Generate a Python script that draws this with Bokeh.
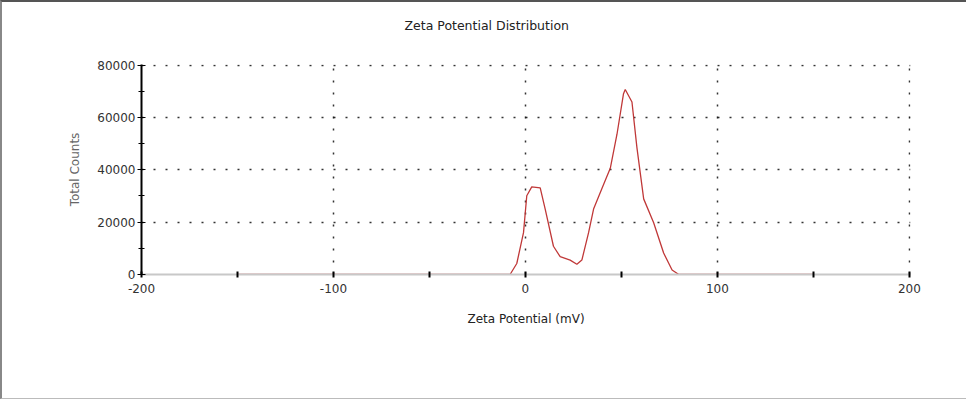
from bokeh.plotting import figure
from bokeh.models import Range1d, FixedTicker, PrintfTickFormatter
from bokeh.embed import file_html
from bokeh.resources import INLINE

# data
zeta_mv = [-150, -8, -4.5, -1, 0.7, 3.3, 7.7, 10.3, 14.6, 18.1, 23.3, 26.8, 29.4,
           32.9, 35.5, 39.8, 44.2, 47.7, 51.1, 52.0, 55.5, 58.1, 61.6, 66.8,
           72.0, 76.4, 79.9, 150]
total_counts = [0, 0, 4200, 16000, 30100, 33500, 33100, 25000, 10800, 6800, 5500,
                3900, 5500, 16000, 25000, 32800, 40600, 53600, 69100, 70700,
                65900, 48400, 28900, 19800, 8200, 1700, 0, 0]
x_ticks = [-200, -100, 0, 100, 200]
x_minor = [-150, -50, 50, 150]
x_grid = [-100, 0, 100, 200]
y_ticks = [0, 20000, 40000, 60000, 80000]
y_minor = [10000, 30000, 50000, 70000]
y_grid = [20000, 40000, 60000, 80000]
chart_title = "Zeta Potential Distribution"

font = "DejaVu Sans"

p = figure(width=966, height=399, output_backend="svg", toolbar_location=None,
           x_range=Range1d(-200, 200.6), y_range=Range1d(0, 80250),
           min_border_left=139, min_border_right=58,
           min_border_top=62, min_border_bottom=127,
           title=chart_title + "\n ")
p.styles = {"border-top": "2px solid #555", "border-left": "2px solid #888",
            "border-bottom": "1px solid #bbb", "box-sizing": "border-box"}
p.outline_line_color = None

p.title.align = "left"
p.title.offset = 263
p.title.vertical_align = "top"
p.title.standoff = 30
p.title.text_font = font
p.title.text_font_size = "12.5px"
p.title.text_font_style = "normal"
p.title.text_color = "#222"

# axes
p.xaxis.ticker = FixedTicker(ticks=x_ticks, minor_ticks=x_minor)
p.yaxis.ticker = FixedTicker(ticks=y_ticks, minor_ticks=y_minor)
p.xaxis.formatter = PrintfTickFormatter(format="%d")
p.yaxis.formatter = PrintfTickFormatter(format="%d")
p.xaxis.axis_line_color = "#c8c8c8"
p.xaxis.axis_line_width = 2
p.xaxis.major_tick_line_color = "black"
p.xaxis.minor_tick_line_color = "black"
p.xaxis.major_tick_in = 3
p.xaxis.major_tick_out = 3
p.xaxis.minor_tick_in = 3
p.xaxis.minor_tick_out = 3
p.xaxis.major_tick_line_width = 2
p.xaxis.minor_tick_line_width = 2
p.xaxis.major_label_standoff = 6
p.yaxis.axis_line_color = "black"
p.yaxis.axis_line_width = 2
p.yaxis.major_tick_line_color = "black"
p.yaxis.minor_tick_line_color = "black"
p.yaxis.major_tick_in = 4
p.yaxis.major_tick_out = 4
p.yaxis.minor_tick_in = 3
p.yaxis.minor_tick_out = 3
p.yaxis.major_label_standoff = 2
for ax in (p.xaxis, p.yaxis):
    ax.major_label_text_font = font
    ax.major_label_text_font_size = "12px"
    ax.major_label_text_color = "#333"
    ax.axis_label_text_font = font
    ax.axis_label_text_font_style = "normal"
p.xaxis.axis_label = "Zeta Potential (mV)"
p.xaxis.axis_label_text_font_size = "12px"
p.xaxis.axis_label_text_color = "#222"
p.xaxis.axis_label_standoff = 16
p.yaxis.axis_label = "Total Counts"
p.yaxis.axis_label_text_font_size = "12px"
p.yaxis.axis_label_text_color = "#666"
p.yaxis.axis_label_standoff = 12

# grid
for g in (p.xgrid, p.ygrid):
    g.grid_line_color = "black"
    g.grid_line_dash = "2 10"
    g.grid_line_width = 1.5
    g.grid_line_alpha = 0.8
p.xgrid.ticker = FixedTicker(ticks=x_grid)
p.ygrid.ticker = FixedTicker(ticks=y_grid)

# data line
p.line(zeta_mv, total_counts, line_color="#c03838", line_width=1.3)

open("out.html", "w").write(file_html(p, INLINE))
